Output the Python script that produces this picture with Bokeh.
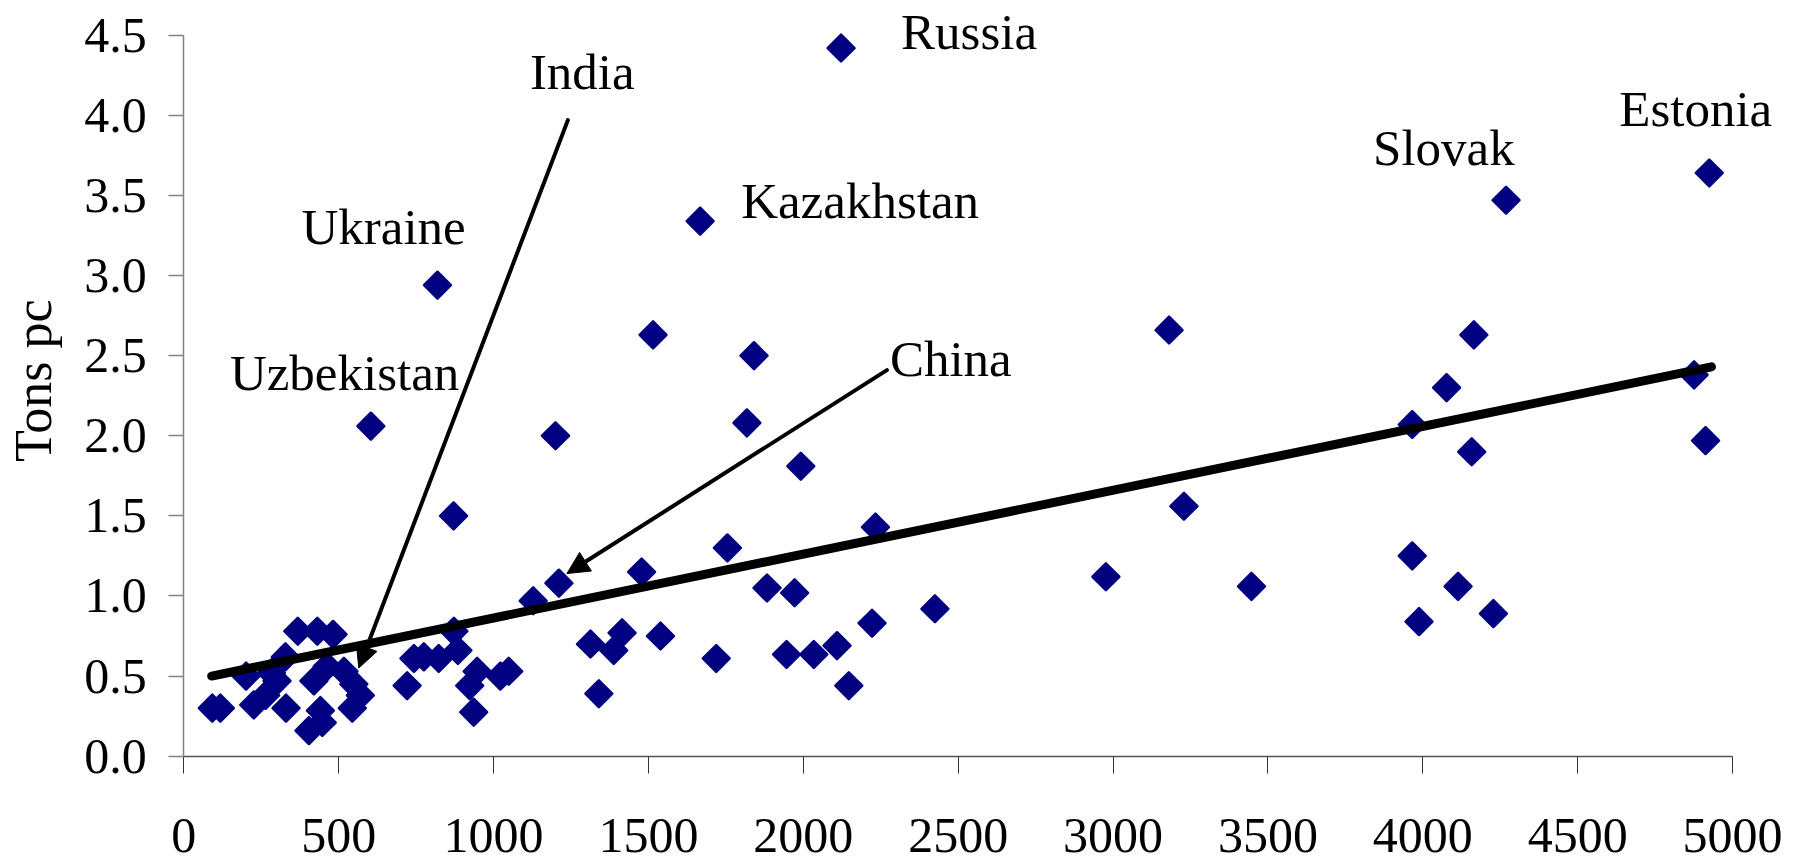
import math
from bokeh.plotting import figure
from bokeh.models import (Label, Arrow, NormalHead, FixedTicker, PrintfTickFormatter,
                          ColumnDataSource, Range1d)
from bokeh.embed import file_html
from bokeh.resources import INLINE

# ---------------- data ----------------
# unlabeled countries: GDP per capita (x) and tons per capita (y)
gdp_pc = [92, 118, 201, 226, 264, 283, 301, 328, 330, 368, 431, 482, 420, 463, 441, 404, 447,
          517, 549, 570, 544, 721, 743, 775, 823, 872, 885, 947, 923, 936, 1022, 1049,
          1128, 1211, 1200, 871, 1313, 1388, 1415, 1340, 1539, 1478, 1515, 1719, 1755,
          1818, 1841, 1883, 1972, 1946, 2034, 2109, 2147, 1992, 2222, 2233, 2425, 2977,
          3181, 3229, 3447, 3966, 3966, 3988, 4077, 4114, 4158, 4165, 4228, 4876, 4913]
tons_pc = [0.30, 0.30, 0.50, 0.32, 0.38, 0.52, 0.47, 0.62, 0.30, 0.78, 0.78, 0.76, 0.47, 0.56,
           0.285, 0.16, 0.21, 0.53, 0.45, 0.38, 0.30, 0.44, 0.61, 0.62, 0.61, 0.78, 0.66, 0.53,
           0.44, 0.275, 0.50, 0.53, 0.97, 1.08, 2.00, 1.50, 0.70, 0.66, 0.77, 0.39, 0.75, 1.15,
           2.63, 0.61, 1.30, 2.08, 2.50, 1.05, 1.02, 0.635, 0.635, 0.69, 0.44, 1.81, 0.83, 1.43,
           0.92, 1.12, 2.66, 1.56, 1.06, 2.07, 1.25, 0.84, 2.30, 1.06, 1.90, 2.63, 0.89, 2.38,
           1.97]

# labeled countries
label_names = ["Russia", "Estonia", "Slovak", "Kazakhstan", "Ukraine", "Uzbekistan"]
label_gdp = [2122, 4925, 4269, 1667, 819, 604]
label_tons = [4.42, 3.64, 3.47, 3.34, 2.94, 2.06]

# countries pointed at with arrows
arrow_names = ["India", "China"]
arrow_start_x = [1240, 2270]
arrow_start_y = [3.97, 2.41]
arrow_end_x = [565, 1237]
arrow_end_y = [0.55, 1.14]

# fitted trend line
trend_x = [90, 4932]
trend_y = [0.50, 2.43]

x_ticks = [0, 500, 1000, 1500, 2000, 2500, 3000, 3500, 4000, 4500, 5000]
y_ticks = [0.0, 0.5, 1.0, 1.5, 2.0, 2.5, 3.0, 3.5, 4.0, 4.5]
y_title = "Tons pc"

# ---------------- layout / styles ----------------
W, H = 1798, 867
AX_LEFT, AX_RIGHT = 183.3, 1732.0      # pixel positions of x = 0 and x = 5000
AX_TOP, AX_BOTTOM = 34.7, 755.7        # pixel positions of y = 4.5 and y = 0
x0, x1 = x_ticks[0], x_ticks[-1]
y0, y1 = y_ticks[0], y_ticks[-1]
sx = (x1 - x0) / (AX_RIGHT - AX_LEFT)
sy = (y1 - y0) / (AX_BOTTOM - AX_TOP)
x_range = Range1d(x0 - AX_LEFT * sx, x1 + (W - AX_RIGHT) * sx)
y_range = Range1d(y0 - (H - AX_BOTTOM) * sy, y1 + AX_TOP * sy)

FONT = "Liberation Serif"
NAVY = "#000080"
label_offsets = {"Russia": (60, 16), "Estonia": (-90, 64), "Slovak": (-133, 52),
                 "Kazakhstan": (41, 20), "Ukraine": (-136, 58), "Uzbekistan": (-141, 53)}
arrow_label_offsets = {"India": (-38, 48), "China": (3, 11)}

p = figure(width=W, height=H, output_backend="svg", toolbar_location=None,
           x_range=x_range, y_range=y_range, min_border=0,
           x_axis_location="below", y_axis_location="left")
p.outline_line_color = None
p.xgrid.visible = False
p.ygrid.visible = False
p.background_fill_color = "white"
p.border_fill_color = "white"

all_x = gdp_pc + label_gdp
all_y = tons_pc + label_tons
src = ColumnDataSource(dict(x=all_x, y=all_y))
p.scatter("x", "y", source=src, marker="square", angle=math.pi / 4, size=19,
          fill_color=NAVY, line_color=NAVY, line_width=2.5, line_join="round")

p.line(trend_x, trend_y, line_color="black", line_width=9, line_cap="round")

for name, ax_, ay_, ex, ey in zip(arrow_names, arrow_start_x, arrow_start_y, arrow_end_x, arrow_end_y):
    p.add_layout(Arrow(x_start=ax_, y_start=ay_, x_end=ex, y_end=ey, line_color="black",
                       line_width=4, line_cap="round",
                       end=NormalHead(size=22, fill_color="black", line_color="black")))
    dx, dy = arrow_label_offsets[name]
    p.add_layout(Label(x=ax_, y=ay_, x_offset=dx, y_offset=dy, text=name,
                       text_font=FONT, text_font_size="51px", text_color="black",
                       text_baseline="alphabetic", text_align="left"))

for name, gx, ty in zip(label_names, label_gdp, label_tons):
    dx, dy = label_offsets[name]
    p.add_layout(Label(x=gx, y=ty, x_offset=dx, y_offset=dy, text=name,
                       text_font=FONT, text_font_size="51px", text_color="black",
                       text_baseline="alphabetic", text_align="left"))

# y-axis title, centred a little above the middle of the y axis
p.add_layout(Label(x=x0, y=(y0 + y1) / 2, x_offset=-150, y_offset=15, text=y_title,
                   angle=math.pi / 2, text_font=FONT, text_font_size="52px",
                   text_color="black", text_align="center", text_baseline="middle"))

# axes (fixed at the data origin so they need no border space)
xa, ya = p.xaxis[0], p.yaxis[0]
xa.fixed_location = y0
ya.fixed_location = x0
xa.bounds = (x0, x1)
ya.bounds = (y0, y1)
xa.ticker = FixedTicker(ticks=x_ticks)
xa.formatter = PrintfTickFormatter(format="%d")
ya.ticker = FixedTicker(ticks=y_ticks)
ya.formatter = PrintfTickFormatter(format="%.1f")
for ax in (xa, ya):
    ax.minor_tick_line_color = None
    ax.major_tick_in = 0
    ax.major_label_text_font = FONT
    ax.major_label_text_font_size = "50px"
    ax.major_label_text_color = "black"
xa.axis_line_color = "#555555"
xa.axis_line_width = 1.5
xa.major_tick_line_color = "#333333"
xa.major_tick_line_width = 1
xa.major_tick_out = 17
xa.major_label_standoff = 46
ya.axis_line_color = "#808080"
ya.axis_line_width = 1.5
ya.major_tick_line_color = "#808080"
ya.major_tick_line_width = 1.5
ya.major_tick_out = 15
ya.major_label_standoff = 22

open("out.html", "w").write(file_html(p, INLINE))
